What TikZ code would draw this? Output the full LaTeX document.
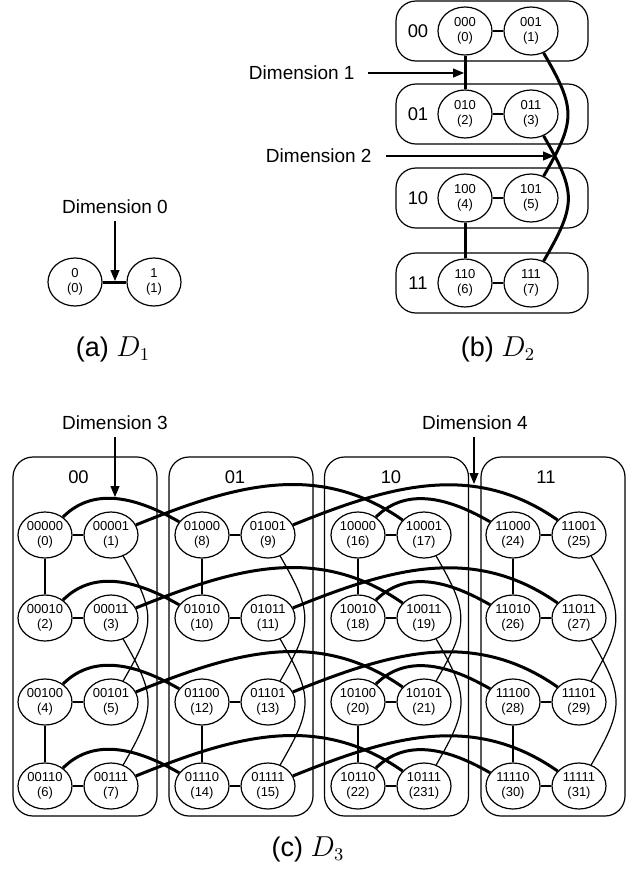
\documentclass[tikz,border=0pt]{standalone}
\usepackage{fontspec}
\setmainfont{Liberation Sans}
\usetikzlibrary{shapes.geometric,arrows.meta}
\begin{document}
\begin{tikzpicture}[x=0.5pt,y=0.5pt,
  ndbase/.style={ellipse,draw,fill=white,line width=0.6pt,inner sep=-4pt,align=center,
    minimum width=27pt,minimum height=23.5pt,font=\fontsize{6.5}{7.4}\selectfont},
  nd1/.style={ndbase,minimum height=24pt},
  nd2/.style={ndbase,minimum height=24pt},
  nd3/.style={ndbase,minimum height=23pt},
  bx2/.style={draw,line width=0.6pt,rounded corners=10pt,minimum width=96pt,minimum height=30pt,inner sep=0pt},
  bx3/.style={draw,line width=0.6pt,rounded corners=10pt,minimum width=72pt,minimum height=179.5pt,inner sep=0pt},
  blab/.style={font=\fontsize{9.2}{11}\selectfont,inner sep=0pt},
  dimtxt/.style={font=\fontsize{9.5}{11}\selectfont,inner sep=3.5pt},
  captxt/.style={font=\fontsize{13.5}{16}\selectfont,anchor=base,inner sep=0pt},
  thn/.style={line width=0.6pt},
  thk/.style={line width=1.5pt},
  arr/.style={line width=0.6pt,-{Triangle[length=5.5pt,width=4.5pt]}}
]
\path[use as bounding box] (0,0) rectangle (632,-869);

% ---------------- (a) D1 ----------------
\node[nd1] (a0) at (75,-282) {0\\(0)};
\node[nd1] (a1) at (154,-282) {1\\(1)};
\draw[thk] (a0) -- (a1);
\node[dimtxt] (dim0) at (115,-207) {Dimension 0};
\coordinate (dim0tip) at (115,-281);
\draw[arr] (dim0.south) -- (dim0tip);
\node[captxt] (capa) at (113,-356) {(a) $D_1$};

% ---------------- (b) D2 ----------------
\foreach \r/\ry/\rb in {0/31/00,1/114/01,2/198/10,3/283/11}{
  \node[bx2] (b2box\r) at (492,-\ry) {};
  \node[blab] (b2lab\r) at (418,-\ry) {\rb};
  \pgfmathtruncatemacro\ka{2*\r}
  \pgfmathtruncatemacro\kb{2*\r+1}
  \node[nd2] (b\ka) at (465,-\ry) {\rb0\\(\ka)};
  \node[nd2] (b\kb) at (531,-\ry) {\rb1\\(\kb)};
  \draw[thn] (b\ka) -- (b\kb);
}
\draw[thk] (b0) -- (b2);
\draw[thk] (b4) -- (b6);
\draw[thk] (b1) to[out=-60,in=60,looseness=1.35] (b5);
\draw[thk] (b3) to[out=-60,in=60,looseness=1.35] (b7);
\node[dimtxt,anchor=east,inner xsep=6.5pt] (dim1) at (368,-73) {Dimension 1};
\coordinate (dim1tip) at (464,-73);
\draw[arr] (dim1.east) -- (dim1tip);
\node[dimtxt,anchor=east,inner xsep=7pt] (dim2) at (386,-156) {Dimension 2};
\coordinate (dim2tip) at (554,-156);
\draw[arr] (dim2.east) -- (dim2tip);
\node[captxt] (capb) at (498,-356) {(b) $D_2$};

% ---------------- (c) D3 ----------------
\foreach \bx/\bc/\bb in {0/85/00,1/241/01,2/396.5/10,3/553/11}{
  \node[bx3] (c3box\bx) at (\bc,-636.5) {};
}
\foreach \bx/\lx/\bb in {0/78.5/00,1/235/01,2/391/10,3/546/11}{
  \node[blab] (c3lab\bx) at (\lx,-477) {\bb};
}
\foreach \bx/\bxx/\bb in {0/45/00,1/202/01,2/358/10,3/513/11}{
  \foreach \r/\ry/\rb in {0/535/00,1/618/01,2/702/10,3/786/11}{
    \foreach \c in {0,1}{
      \pgfmathtruncatemacro\k{8*\bx+2*\r+\c}
      \ifnum\k=23 \def\lab{231}\else\edef\lab{\k}\fi
      \node[nd3] (d\k) at ({\bxx+66*\c},-\ry) {\bb\rb\c\\(\lab)};
    }
  }
}
% dimension 0 (thin horizontal)
\foreach \bx in {0,1,2,3}{
  \foreach \r in {0,1,2,3}{
    \pgfmathtruncatemacro\ka{8*\bx+2*\r}
    \pgfmathtruncatemacro\kb{\ka+1}
    \draw[thn] (d\ka) -- (d\kb);
  }
}
% dimension 1 (thin vertical) and dimension 2 (thin curves)
\foreach \bx in {0,1,2,3}{
  \foreach \r in {0,2}{
    \pgfmathtruncatemacro\ka{8*\bx+2*\r}
    \pgfmathtruncatemacro\kb{\ka+2}
    \draw[thn] (d\ka) -- (d\kb);
  }
  \foreach \r in {0,1}{
    \pgfmathtruncatemacro\ka{8*\bx+2*\r+1}
    \pgfmathtruncatemacro\kb{\ka+4}
    \draw[thn] (d\ka) to[out=-60,in=60,looseness=1.35] (d\kb);
  }
}
% dimension 3 (thick short arches)
\foreach \bx in {0,2}{
  \foreach \r in {0,1,2,3}{
    \pgfmathtruncatemacro\ka{8*\bx+2*\r}
    \pgfmathtruncatemacro\kb{\ka+8}
    \draw[thk] (d\ka) to[out=45,in=150] (d\kb);
  }
}
% dimension 4 (thick long arches)
\foreach \bx in {0,1}{
  \foreach \r in {0,1,2,3}{
    \pgfmathtruncatemacro\ka{8*\bx+2*\r+1}
    \pgfmathtruncatemacro\kb{\ka+16}
    \draw[thk] (d\ka) to[out=22,in=145] (d\kb);
  }
}
\node[dimtxt] (dim3) at (115,-423) {Dimension 3};
\coordinate (dim3tip) at (115,-497);
\draw[arr] (dim3.south) -- (dim3tip);
\node[dimtxt] (dim4) at (475,-423) {Dimension 4};
\coordinate (dim4tip) at (474,-484);
\draw[arr] (dim4.south) -| (dim4tip);
\node[captxt] (capc) at (308,-856) {(c) $D_3$};
\end{tikzpicture}
\end{document}
